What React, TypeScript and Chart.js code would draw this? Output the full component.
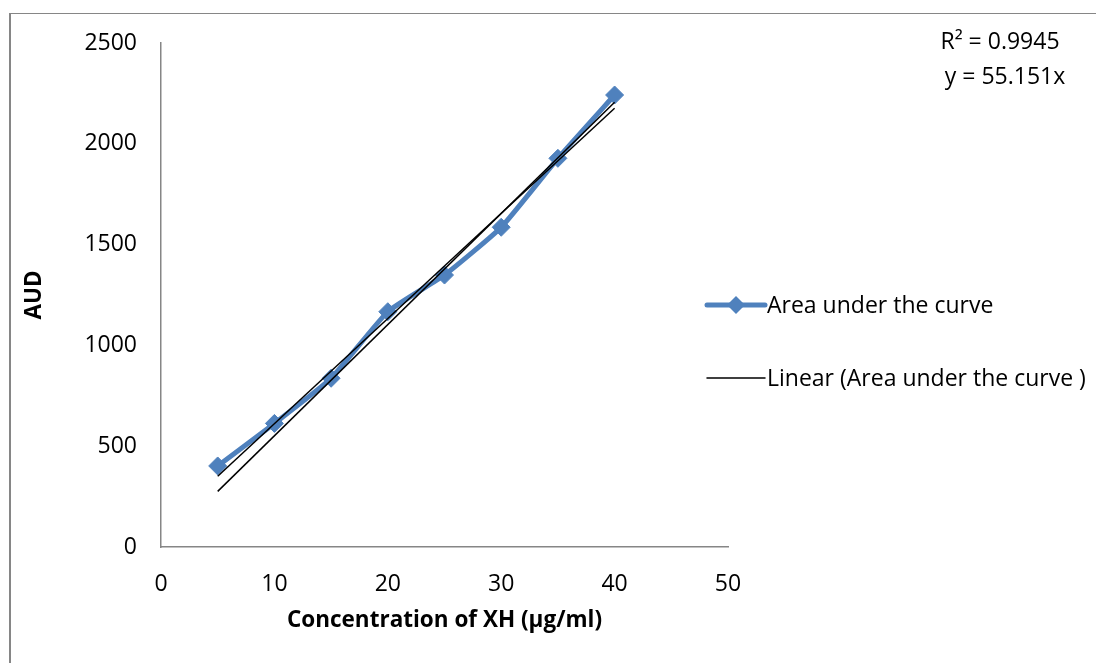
import React, { useEffect, useRef } from "react";
import { Chart, registerables } from "chart.js";

Chart.register(...registerables);

// ---- data ----
const concentrations = [5, 10, 15, 20, 25, 30, 35, 40];
const areaValues = [402, 613, 837, 1167, 1349, 1586, 1928, 2242];
const trendX = [5, 40];
const trendThroughOrigin = [276, 2206]; // Excel trendline y = 55.151x
const trendWithIntercept = [351, 2176]; // second black fit line (not in legend)
const seriesLabel = "Area under the curve";
const trendLabel = "Linear (Area under the curve )";
const rSquaredText = "R² = 0.9945";
const equationText = "y = 55.151x";
const xTitle = "Concentration of XH (µg/ml)";
const yTitle = "AUD";
const xTickValues = [0, 10, 20, 30, 40, 50];
const yTickValues = [0, 500, 1000, 1500, 2000, 2500];

const FONT = '"Open Sans", "Noto Sans", sans-serif';
const BLUE = "#4F81BD";
const AXIS = "#868686";

const W = 1097;
const H = 663;

const excelLegend = {
  id: "excelLegend",
  afterDraw(chart: any) {
    const ctx = chart.ctx;
    ctx.save();
    const items = chart.data.datasets.filter((d: any) => !d.hideInLegend);
    const rows = [305, 378];
    items.forEach((ds: any, i: number) => {
      const y = rows[i];
      const x0 = 707;
      const x1 = 765;
      ctx.strokeStyle = ds.borderColor;
      ctx.lineWidth = ds.borderWidth;
      ctx.lineCap = "round";
      ctx.beginPath();
      ctx.moveTo(x0, y);
      ctx.lineTo(x1, y);
      ctx.stroke();
      if (ds.pointRadius > 0) {
        const cx = (x0 + x1) / 2;
        const r = ds.pointRadius;
        ctx.fillStyle = ds.pointBackgroundColor;
        ctx.beginPath();
        ctx.moveTo(cx - r, y);
        ctx.lineTo(cx, y - r);
        ctx.lineTo(cx + r, y);
        ctx.lineTo(cx, y + r);
        ctx.closePath();
        ctx.fill();
      }
      ctx.fillStyle = "#000";
      ctx.font = `23px ${FONT}`;
      ctx.textAlign = "left";
      ctx.textBaseline = "middle";
      ctx.fillText(ds.label, 767, y + 1);
    });
    ctx.font = `23px ${FONT}`;
    ctx.textAlign = "center";
    ctx.textBaseline = "middle";
    ctx.fillStyle = "#000";
    ctx.fillText(rSquaredText, 1000, 42);
    ctx.fillText(equationText, 1005, 77);
    ctx.restore();
  },
};

export default function App() {
  const ref = useRef<HTMLCanvasElement | null>(null);

  useEffect(() => {
    if (!ref.current) return;
    const chart = new Chart(ref.current, {
      type: "line",
      data: {
        datasets: [
          {
            label: seriesLabel,
            data: concentrations.map((x, i) => ({ x, y: areaValues[i] })),
            borderColor: BLUE,
            backgroundColor: BLUE,
            borderWidth: 5,
            pointStyle: "rectRot",
            pointRadius: 9,
            pointBackgroundColor: BLUE,
            pointBorderColor: BLUE,
            pointBorderWidth: 1,
            tension: 0.15,
            order: 2,
          } as any,
          {
            label: trendLabel,
            data: trendX.map((x, i) => ({ x, y: trendThroughOrigin[i] })),
            borderColor: "#000",
            borderWidth: 1.5,
            pointRadius: 0,
            order: 1,
          } as any,
          {
            label: "fit",
            hideInLegend: true,
            data: trendX.map((x, i) => ({ x, y: trendWithIntercept[i] })),
            borderColor: "#000",
            borderWidth: 1.5,
            pointRadius: 0,
            order: 1,
          } as any,
        ],
      },
      options: {
        animation: false,
        responsive: false,
        maintainAspectRatio: false,
        layout: { padding: { left: 0, top: 43, right: W - 728, bottom: 0 } },
        plugins: {
          legend: { display: false },
          tooltip: { enabled: false },
        },
        scales: {
          x: {
            type: "linear",
            min: 0,
            max: 50,
            afterBuildTicks: (s: any) => {
              s.ticks = xTickValues.map((v) => ({ value: v }));
            },
            ticks: {
              color: "#000",
              font: { family: FONT, size: 23 },
              padding: 16,
              maxRotation: 0,
              callback: (v: any) => String(v),
            },
            grid: { display: false },
            border: { display: true, color: AXIS, width: 1.5 },
            title: {
              display: true,
              text: xTitle,
              color: "#000",
              font: { family: FONT, size: 22.5, weight: "bold" },
              padding: { top: 0, bottom: 29 },
            },
            afterFit: (s: any) => {
              s.height = H - 547;
            },
          },
          y: {
            type: "linear",
            min: 0,
            max: 2500,
            afterBuildTicks: (s: any) => {
              s.ticks = yTickValues.map((v) => ({ value: v }));
            },
            ticks: {
              color: "#000",
              font: { family: FONT, size: 23 },
              padding: 16,
              callback: (v: any) => String(v),
            },
            grid: { display: false },
            border: { display: true, color: AXIS, width: 1.5 },
            title: {
              display: true,
              text: yTitle,
              color: "#000",
              font: { family: FONT, size: 22.5, weight: "bold" },
              padding: { top: 21, bottom: 0 },
            },
            afterFit: (s: any) => {
              s.width = 161;
            },
          },
        },
      } as any,
      plugins: [excelLegend],
    });
    return () => chart.destroy();
  }, []);

  return (
    <div
      style={{
        position: "fixed",
        left: 0,
        top: 0,
        width: W,
        height: H,
        overflow: "hidden",
        background: "#fff",
      }}
    >
      <div
        style={{
          position: "absolute",
          left: 9,
          top: 13,
          width: 1087,
          height: 700,
          borderTop: `1px solid ${AXIS}`,
          borderLeft: `2px solid ${AXIS}`,
          boxSizing: "border-box",
        }}
      />
      <canvas
        ref={ref}
        width={W}
        height={H}
        style={{ position: "absolute", left: 0, top: 0, width: W, height: H }}
      />
    </div>
  );
}
